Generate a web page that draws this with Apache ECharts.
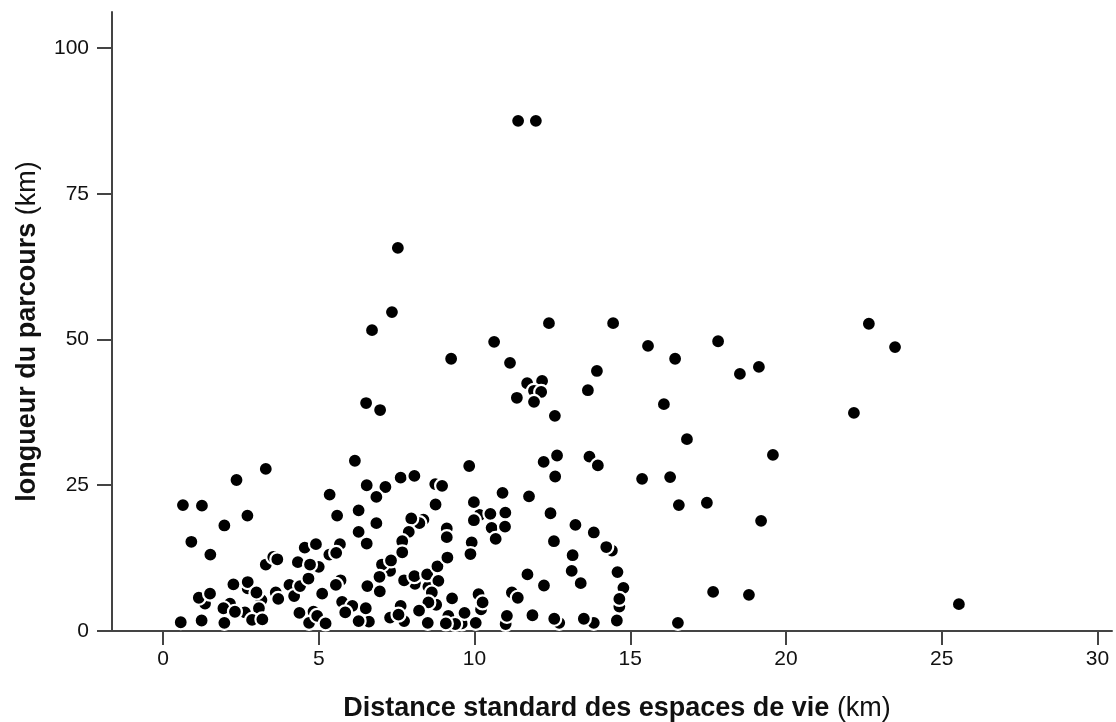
<!DOCTYPE html>
<html><head><meta charset="utf-8">
<script src="https://cdn.jsdelivr.net/npm/echarts@6/dist/echarts.min.js"></script>
<style>html,body{margin:0;padding:0;background:#fff}#c{width:1116px;height:722px}</style>
</head><body><div id="c"></div>
<script>
const xTicks = [0,5,10,15,20,25,30];
const yTicks = [0,25,50,75,100];
const xTitle = 'Distance standard des espaces de vie';
const yTitle = 'longueur du parcours';
const unit = '(km)';
// Partly hidden points first, so the later points overlap them
const hiddenX = [2.15,1.35,3.30,3.54,2.72,2.72,3.16,3.08,2.63,3.62,4.83,4.06,5.70,5.00,5.34,5.68,5.75,6.08,6.61,7.30,7.23,8.74,8.36,8.23,7.29,8.09,8.52,8.77,7.29,7.74,7.45,9.16,9.59,9.59,9.38,10.13,10.21,9.11,10.16,14.41,11.20,11.00,12.72,14.65,13.83];
const hiddenY = [4.7,4.7,11.4,12.7,7.3,8.4,5.3,3.9,3.2,6.6,3.3,7.9,8.7,11.0,13.1,14.9,5.0,4.3,1.6,12.4,10.2,25.2,19.1,18.5,10.3,8.1,7.6,4.5,2.3,1.7,2.7,2.6,1.9,1.3,1.2,6.3,3.7,17.6,19.9,13.8,6.6,1.2,1.4,4.2,1.4];
const topX = [0.57,1.24,1.97,1.94,2.31,1.15,1.51,2.26,0.64,1.25,0.91,1.52,1.97,2.71,2.36,3.30,3.67,3.00,2.86,3.19,3.70,4.38,4.69,4.95,5.22,4.21,4.40,4.67,5.11,5.55,4.33,4.72,4.55,4.91,5.56,5.35,5.59,6.16,6.54,7.14,6.85,6.28,6.85,6.28,6.54,7.03,6.95,6.56,6.96,5.85,6.51,6.28,7.29,7.63,8.07,8.96,8.75,9.83,7.97,7.89,7.68,7.68,7.32,7.74,8.07,8.48,8.81,9.13,8.84,8.63,8.52,8.22,9.28,7.63,7.56,8.50,9.08,9.68,10.04,10.26,9.11,9.91,9.87,9.98,9.98,10.51,10.99,10.90,10.55,10.98,10.68,11.75,12.22,12.65,12.59,13.69,13.96,15.38,16.28,12.44,13.24,13.83,14.23,12.55,13.15,13.12,13.41,11.70,12.23,14.59,14.78,14.65,14.57,11.39,11.04,11.86,12.56,13.51,11.40,11.97,7.54,7.35,6.71,6.52,6.97,9.25,10.63,11.14,12.39,14.45,15.57,17.82,16.44,18.52,19.13,22.66,23.50,22.18,16.08,16.82,19.58,13.93,13.64,11.69,12.17,11.91,12.14,11.91,11.36,12.58,16.53,17.66,18.81,25.55,16.56,17.46,19.20];
const topY = [1.5,1.8,1.4,3.9,3.3,5.7,6.4,8.0,21.6,21.5,15.3,13.1,18.1,19.8,25.9,27.8,12.3,6.6,1.9,2.0,5.5,3.1,1.4,2.6,1.3,6.0,7.7,9.0,6.4,7.9,11.8,11.4,14.3,14.9,13.4,23.4,19.8,29.2,25.0,24.7,23.0,20.7,18.5,17.0,15.0,11.4,9.3,7.7,6.8,3.2,3.9,1.7,2.3,26.3,26.6,24.9,21.7,28.3,19.3,17.0,15.4,13.5,12.1,8.7,9.4,9.7,11.1,12.6,8.6,6.6,4.9,3.5,5.6,4.3,2.8,1.4,1.3,3.1,1.4,4.9,16.1,15.2,13.2,19.0,22.1,20.1,20.3,23.7,17.7,17.9,15.8,23.1,29.0,30.1,26.5,29.9,28.4,26.1,26.4,20.2,18.2,16.9,14.4,15.4,13.0,10.3,8.2,9.7,7.8,10.1,7.4,5.5,1.8,5.7,2.6,2.7,2.1,2.1,87.5,87.5,65.7,54.7,51.6,39.1,37.9,46.7,49.6,46.0,52.8,52.8,48.9,49.7,46.7,44.1,45.3,52.7,48.7,37.4,38.9,32.9,30.2,44.6,41.3,42.5,42.9,41.2,41.0,39.3,40.0,36.9,1.4,6.7,6.2,4.6,21.6,22.0,18.9];

const xs = hiddenX.concat(topX), ys = hiddenY.concat(topY);
const points = xs.map((x,i)=>[x,ys[i]]);
const font = '"Liberation Sans", Arial, sans-serif';
const lineStyle = {color:'#444', width:2};
const titleRich = {
  b:{fontFamily:font,fontSize:27,fontWeight:'bold',color:'#111'},
  r:{fontFamily:font,fontSize:27,color:'#111'}
};
const chart = echarts.init(document.getElementById('c'), null, {renderer:'canvas'});
chart.setOption({
  animation:false,
  backgroundColor:'#fff',
  grid:{left:112, top:12, width:1000, height:619, outerBoundsMode:'none', containLabel:false},
  xAxis:{
    type:'value', min:-1.637, max:30.465,
    position:'bottom',
    axisLine:{show:true,onZero:false,lineStyle:lineStyle},
    axisTick:{show:true,length:14,customValues:xTicks,lineStyle:lineStyle},
    axisLabel:{customValues:xTicks,formatter:v=>String(v),color:'#111',fontFamily:font,fontSize:21,margin:18},
    splitLine:{show:false},
    name:'{b|'+xTitle+' }{r|'+unit+'}',
    nameLocation:'middle', nameGap:64, nameMoveOverlap:false,
    nameTextStyle:{padding:[0,0,0,10],rich:titleRich}
  },
  yAxis:{
    type:'value', min:0, max:106.17,
    axisLine:{show:true,onZero:false,lineStyle:lineStyle},
    axisTick:{show:true,length:15,customValues:yTicks,lineStyle:lineStyle},
    axisLabel:{customValues:yTicks,formatter:v=>String(v),color:'#111',fontFamily:font,fontSize:21,margin:23},
    splitLine:{show:false},
    name:'{b|'+yTitle+' }{r|'+unit+'}',
    nameLocation:'middle', nameGap:71, nameMoveOverlap:false,
    nameTextStyle:{padding:[0,20,0,0],rich:titleRich}
  },
  series:[{
    type:'scatter', data:points, symbol:'circle', symbolSize:14, clip:false,
    itemStyle:{color:'#000',borderColor:'#fff',borderWidth:2.2,opacity:1}
  }]
});
</script></body></html>
